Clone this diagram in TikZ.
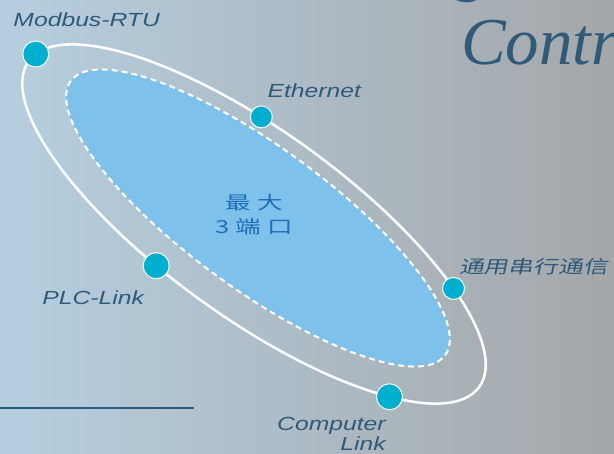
\documentclass[tikz,border=0pt]{standalone}
\usepackage{fontspec}
\usepackage{tikz}
\usetikzlibrary{shapes}
\usetikzlibrary{positioning}
\setmainfont{Liberation Sans}
\newfontfamily\portfont[FakeStretch=1.3]{Liberation Sans}
\newfontfamily\titlefont{Liberation Serif}
\newfontfamily\cjkfont[FakeStretch=1.42, LetterSpace=35]{Noto Sans CJK SC}
\newfontfamily\cjkslant[FakeStretch=1.38, FakeSlant=0.2]{Noto Sans CJK SC}
\definecolor{bgleft}{HTML}{B6CFE0}
\definecolor{bgmid}{HTML}{9FB0BD}
\definecolor{bgright}{HTML}{A4A7A9}
\definecolor{labelblue}{HTML}{2F5A7A}
\definecolor{zoneblue}{HTML}{7EC2EC}
\definecolor{zonetextblue}{HTML}{1F6EB8}
\definecolor{portcyan}{HTML}{00AFD0}
\definecolor{rulecolor}{HTML}{2E5878}
\tikzset{auto, minimum size=0pt, node distance=10pt}
\tikzstyle{ring} = [draw=white, ellipse, line width=2.5pt, inner sep=0pt, outer sep=0pt, rotate=-35.9]
\tikzstyle{zone} = [draw=white, fill=zoneblue, ellipse, dash pattern=on 6pt off 4pt, line width=2pt, inner sep=0pt, outer sep=0pt, rotate=-36.2]
\tikzstyle{port} = [draw=white, fill=portcyan, circle, line width=1pt, minimum size=26pt, inner sep=0pt]
\tikzstyle{smallport} = [port, minimum size=22pt]
\tikzstyle{portname} = [inner sep=0pt, text=labelblue, align=right, font=\portfont\itshape\fontsize{19}{20}\selectfont]
\tikzstyle{cjkname} = [inner sep=0pt, text=labelblue, font=\cjkslant\fontsize{18}{21}\selectfont]
\tikzstyle{zonetext} = [inner sep=0pt, text=zonetextblue, align=center, font=\cjkfont\fontsize{18}{24}\selectfont]
\tikzstyle{title} = [inner sep=0pt, anchor=base west, text=labelblue, font=\titlefont\itshape\fontsize{67}{72}\selectfont]

\begin{document}
\begin{tikzpicture}[x=1pt, y=-1pt]
	\useasboundingbox (0,0) rectangle (614,454);
	\shade [left color=bgleft, middle color=bgmid, right color=bgright] (0,0) rectangle (614,454);

	\node [title] (title-top) at (456,-11) {g};
	\node [title] (title) at (461,65) {Contr};

	\node [ring, minimum width=556pt, minimum height=186pt] (ring) at (254,224) {};
	\node [zone, minimum width=464pt, minimum height=142pt] (zone) at (258,218) {};
	\node [zonetext] (zone-label) at (254,215) {最大\\3端口};

	\node [port] (modbus) at (ring.178.1) {};
	\node [smallport] (ethernet) at (ring.122.1) {};
	\node [port] (plc) at (ring.239.2) {};
	\node [smallport] (serial) at (ring.18.1) {};
	\node [port] (computer) at (ring.344.8) {};

	\node [portname, above=14pt of modbus, xshift=51pt] (modbus-label) {Modbus-RTU};
	\node [portname, above=8pt of ethernet, xshift=53pt] (ethernet-label) {Ethernet};
	\node [portname, below=11pt of plc, xshift=-63pt] (plc-label) {PLC-Link};
	\node [cjkname, above=2pt of serial, xshift=80pt] (serial-label) {通用串行通信};
	\node [portname, below=7pt of computer, xshift=-58pt] (computer-label) {Computer\\Link};

	\coordinate (rule-west) at (0,408);
	\coordinate (rule-east) at (194,408);
	\draw [rulecolor, line width=1.5pt] (rule-west) -- (rule-east);
\end{tikzpicture}
\end{document}
